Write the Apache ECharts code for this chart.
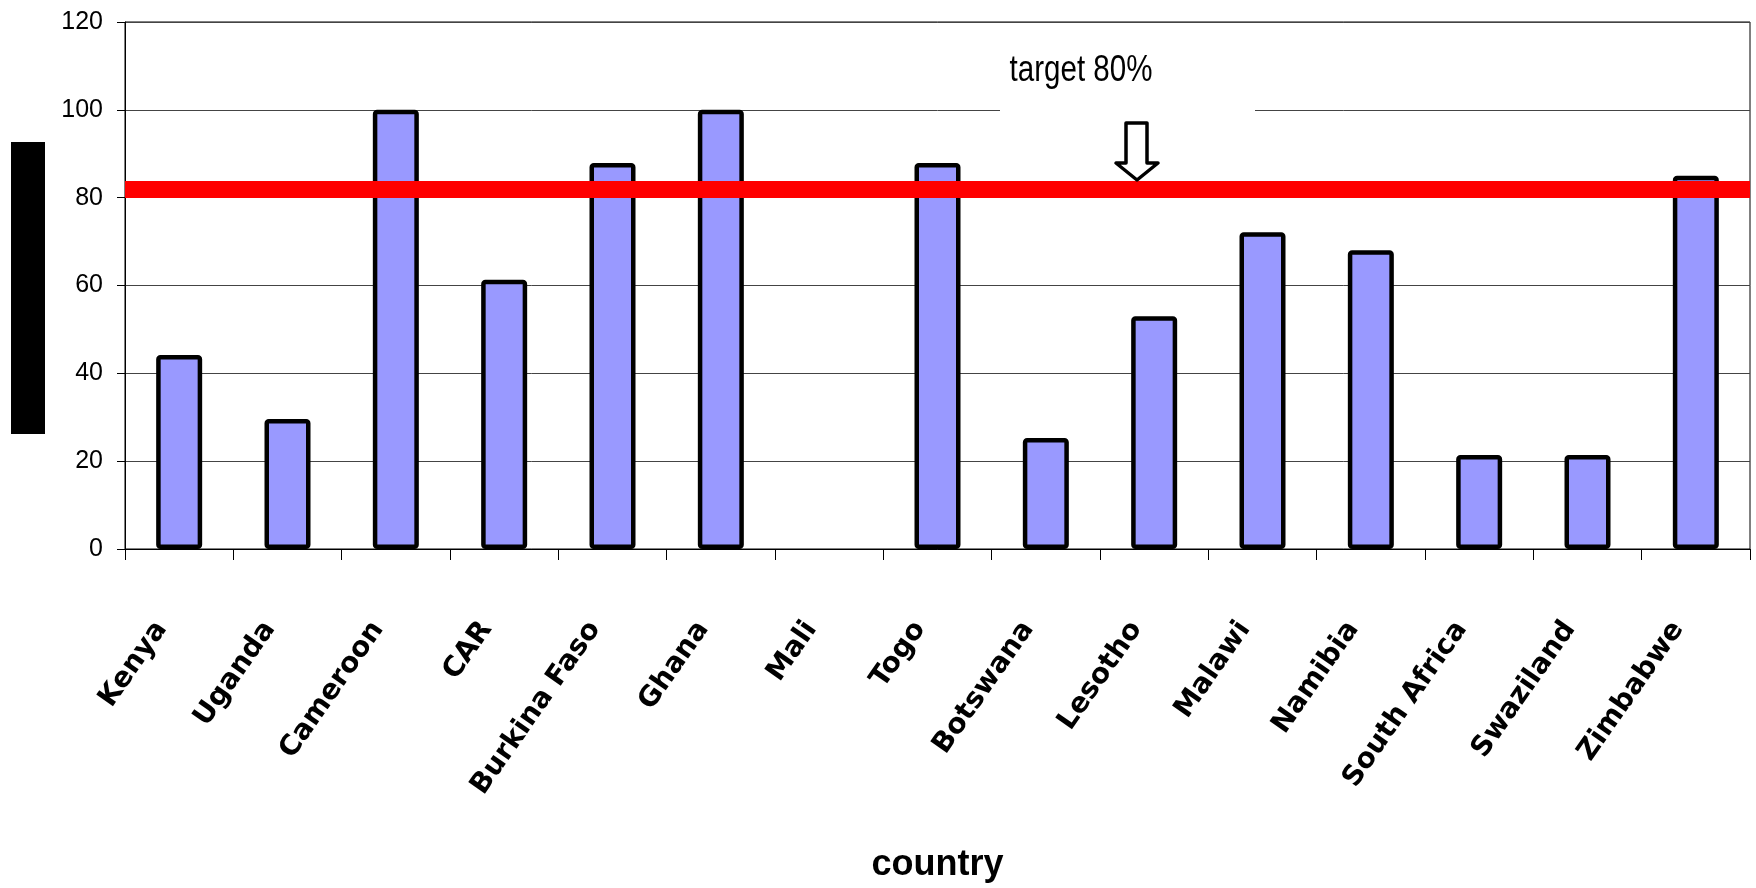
<!DOCTYPE html>
<html>
<head>
<meta charset="utf-8">
<script src="https://cdn.jsdelivr.net/npm/echarts@6/dist/echarts.min.js"></script>
<style>
html,body{margin:0;padding:0;background:#fff;}
#chart{width:1756px;height:888px;}
</style>
</head>
<body>
<div id="chart"></div>
<script>
// ---- data ----
const categories = ['Kenya', 'Uganda', 'Cameroon', 'CAR', 'Burkina Faso', 'Ghana', 'Mali', 'Togo',
  'Botswana', 'Lesotho', 'Malawi', 'Namibia', 'South Africa', 'Swaziland', 'Zimbabwe'];
const values = [44.2, 29.6, 100, 61.3, 87.9, 100, null, 87.9, 25.3, 53, 72.1, 68, 21.4, 21.4, 85];
const yMin = 0;
const yMax = 120;
const yStep = 20;
const targetValue = 82.0;
const targetText = 'target 80%';
const xTitle = 'country';

const sans = '"Liberation Sans", Arial, sans-serif';

const chart = echarts.init(document.getElementById('chart'), null, {renderer: 'canvas'});
chart.setOption({
  animation: false,
  backgroundColor: '#ffffff',
  grid: {
    left: 125, right: 6, top: 22, bottom: 330,
    show: true, borderColor: '#000', borderWidth: 1, backgroundColor: 'transparent'
  },
  xAxis: {
    type: 'category',
    data: categories,
    axisLine: {lineStyle: {color: '#000', width: 1}},
    axisTick: {show: true, interval: 0, length: 11, alignWithLabel: false, lineStyle: {color: '#000'}},
    axisLabel: {
      interval: 0,
      rotate: 55,
      margin: 50,
      padding: [0, 31, 0, 0],
      color: '#000',
      fontFamily: '"DejaVu Sans", sans-serif',
      fontWeight: 'bold',
      fontSize: 28
    },
    name: xTitle,
    nameLocation: 'middle',
    nameGap: 298,
    nameTextStyle: {color: '#000', fontFamily: sans, fontWeight: 'bold', fontSize: 36}
  },
  yAxis: {
    type: 'value',
    min: yMin, max: yMax, interval: yStep,
    axisLine: {show: true, lineStyle: {color: '#000'}},
    axisTick: {show: true, length: 8, lineStyle: {color: '#000'}},
    axisLabel: {margin: 22, color: '#000', fontFamily: sans, fontSize: 25},
    splitLine: {show: true, lineStyle: {color: '#444', width: 1}}
  },
  series: [{
    type: 'bar',
    data: values,
    barWidth: 46,
    itemStyle: {color: '#9999FF', borderColor: '#000', borderWidth: 4.5, borderRadius: 2},
    z: 2,
    markLine: {
      silent: true,
      symbol: ['none', 'none'],
      label: {show: false},
      lineStyle: {color: '#FF0000', width: 17, type: 'solid', cap: 'butt'},
      data: [{yAxis: targetValue}],
      z: 10
    }
  }],
  graphic: [
    {type: 'rect', shape: {x: 11, y: 142, width: 34, height: 292}, style: {fill: '#000'}, z: 100},
    {type: 'rect', shape: {x: 1000, y: 40, width: 255, height: 78}, style: {fill: '#fff'}, z: 100},
    {type: 'text', x: 1081, y: 71, scaleX: 0.82, style: {text: targetText, fill: '#000', font: '36px ' + sans,
      textAlign: 'center', textVerticalAlign: 'middle'}, z: 101},
    {type: 'polygon', shape: {points: [[1126,123],[1147,123],[1147,163],[1158,163],[1137,180],[1116,163],[1126,163]]},
      style: {fill: '#fff', stroke: '#000', lineWidth: 3.5, lineJoin: 'round'}, z: 101}
  ]
});
</script>
</body>
</html>
